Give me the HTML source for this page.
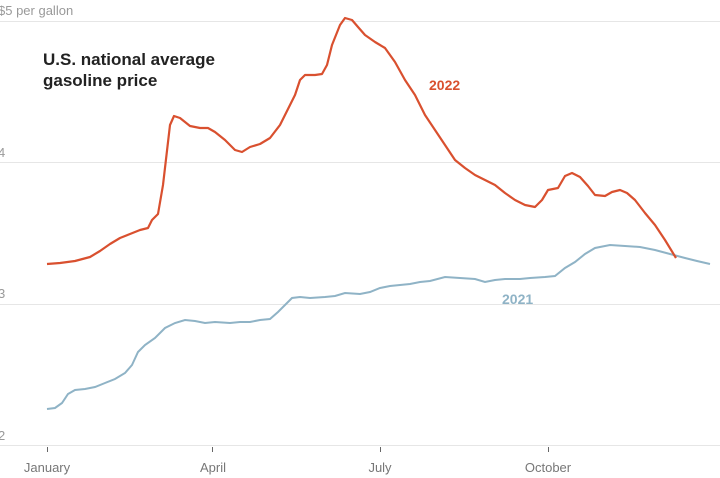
<!DOCTYPE html>
<html><head><meta charset="utf-8"><style>
html,body{margin:0;padding:0;background:#fff;width:720px;height:478px;overflow:hidden}
svg text{font-family:"Liberation Sans",sans-serif}
</style></head><body>
<svg width="720" height="478" viewBox="0 0 720 478">
<g stroke="#e6e6e6" stroke-width="1">
<line x1="0" y1="21.5" x2="720" y2="21.5"/>
<line x1="0" y1="162.5" x2="720" y2="162.5"/>
<line x1="0" y1="304.5" x2="720" y2="304.5"/>
<line x1="0" y1="445.5" x2="720" y2="445.5"/>
</g>
<g fill="#999" font-size="13">
<text x="-2" y="15">$5 per gallon</text>
<text x="-2" y="157">4</text>
<text x="-2" y="298">3</text>
<text x="-2" y="440">2</text>
</g>
<g stroke="#666" stroke-width="1">
<line x1="47.5" y1="447" x2="47.5" y2="452"/>
<line x1="212.5" y1="447" x2="212.5" y2="452"/>
<line x1="380.5" y1="447" x2="380.5" y2="452"/>
<line x1="548.5" y1="447" x2="548.5" y2="452"/>
</g>
<g fill="#777" font-size="13" text-anchor="middle">
<text x="47" y="472">January</text>
<text x="213" y="472">April</text>
<text x="380" y="472">July</text>
<text x="548" y="472">October</text>
</g>
<text x="43" y="65" font-size="17" font-weight="bold" fill="#222">U.S. national average</text>
<text x="43" y="86" font-size="17" font-weight="bold" fill="#222">gasoline price</text>
<polyline fill="none" stroke="#8fb3c6" stroke-width="2" points="47,409 55,408 62,403 68,394 75,390 85,389 95,387 105,383 115,379 125,373 132,365 138,352 145,345 155,338 165,328 175,323 185,320 195,321 205,323 215,322 230,323 240,322 250,322 260,320 270,319 278,312 285,305 292,298 300,297 310,298 325,297 335,296 345,293 360,294 370,292 380,288 390,286 400,285 410,284 420,282 430,281 445,277 460,278 475,279 485,282 495,280 505,279 520,279 530,278 545,277 555,276 565,268 575,262 585,254 595,248 610,245 625,246 640,247 655,250 670,254 685,258 697,261 710,264"/>
<polyline fill="none" stroke="#d9502f" stroke-width="2.2" stroke-linejoin="round" points="47,264 60,263 75,261 90,257 100,251 110,244 120,238 130,234 140,230 148,228 152,220 158,214 163,185 170,125 174,116 180,118 190,126 200,128 208,128 215,132 225,140 235,150 242,152 250,147 260,144 270,138 280,125 290,105 295,95 300,80 305,75 315,75 322,74 327,65 332,45 340,25 345,18 352,20 358,27 365,35 375,42 385,48 395,62 405,80 415,95 425,115 435,130 445,145 455,160 465,168 475,175 485,180 495,185 505,193 515,200 525,205 535,207 542,200 548,190 558,188 565,176 572,173 580,177 588,186 595,195 605,196 612,192 620,190 627,193 635,200 645,213 655,225 665,240 676,258"/>
<text x="429" y="90" font-size="14" font-weight="bold" fill="#d9502f">2022</text>
<text x="502" y="304" font-size="14" font-weight="bold" fill="#8fb3c6">2021</text>
</svg>
</body></html>
